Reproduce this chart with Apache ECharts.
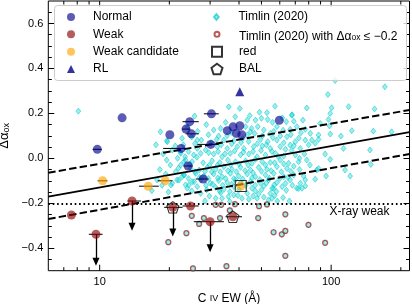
<!DOCTYPE html>
<html><head><meta charset="utf-8">
<script src="https://cdn.jsdelivr.net/npm/echarts@6/dist/echarts.min.js"></script>
<style>html,body{margin:0;padding:0;background:#fff}#c{width:412px;height:304px}</style>
</head><body><div id="c"></div>
<script>
// ---- axis ranges / ticks ----
const xRange = [6, 218];
const yRange = [-0.5, 0.7];
const yMajorTicks = [-0.4, -0.2, 0, 0.2, 0.4, 0.6];
const yMinorTicks = [-0.45,-0.35,-0.3,-0.25,-0.15,-0.1,-0.05,0.05,0.1,0.15,0.25,0.3,0.35,0.45,0.5,0.55,0.65];
const xMajorTicks = [10, 100];
const xMinorTicks = [7, 8, 9, 20, 30, 40, 50, 60, 70, 80, 90, 200];

// ---- sample points: [C IV EW, Δαox, EW low, EW high] ----
const normal = [
  [12.5,0.18,null,null],[9.77,0.04,9.33,10.2],[30.4,0.198,28.2,32.7],[24.5,0.163,22.8,26.8],
  [23.6,0.13,22.7,24.6],[24.9,0.109,23.5,26.8],[20.1,0.105,null,null],[22.5,0.044,18.8,23.4],
  [24.1,-0.034,23.0,25.3],[28.0,-0.092,26.0,29.6],[30.2,0.062,26.4,32.7],[35.6,0.123,null,null],
  [37.7,0.14,null,null],[40.3,0.145,null,null],[38.9,0.111,null,null],[41.1,0.105,null,null],[59.7,0.169,null,null]
];
const weak = [
  [7.55,-0.252,null,null],[13.8,-0.19,13.2,15.1],[9.64,-0.338,8.98,10.3],[20.7,-0.218,19.0,22.8],
  [24.7,-0.212,22.8,26.8],[30.0,-0.282,25.5,34.4],[37.6,-0.26,35.0,41.2]
];
// upper limits: [EW, Δαox, arrow tip Δαox]
const weakLimits = [[13.8,-0.19,-0.304],[9.64,-0.338,-0.46],[20.7,-0.218,-0.33],[30.0,-0.282,-0.40]];
const weakCand = [[10.3,-0.10,9.8,10.8],[16.2,-0.124,14.8,18.0],[19.2,-0.10,17.8,20.6],[40.7,-0.123,null,null]];
const radioLoud = [[40.3,0.296]];
const redSample = [[40.7,-0.123]];
const balSample = [[20.7,-0.218],[37.6,-0.26]];

// ---- Timlin (2020) sample ----
const timlin = [
  [8.09,0.21],[18.3,0.118],[19.5,0.078],[19.5,-0.008],[22.7,0.089],[17.7,-0.096],[16.8,-0.144],[20.6,-0.111],
  [21.6,-0.096],[22.7,-0.082],[23.1,-0.015],[22.3,0.029],[23.4,0.007],[21.9,-0.044],
  [20.6,0.037],[22.4,0.022],[21.7,0.0],[22.4,-0.03],[21.3,-0.06],[23.2,-0.074],[22.0,-0.097],[25.6,-0.104],
  [24.3,-0.119],[20.3,-0.119],[19.6,0.074],[26.4,0.081],
  [17.5,0.06],[18.8,0.02],[18.2,-0.05],[19.3,-0.07],[20.2,-0.03],[21.2,0.055],[19.8,-0.15],[18.6,-0.12],
  [36.1,0.229],[40.3,0.222],[57.2,0.232],[25.7,0.188],[52.8,0.203],[67.8,0.194],
  [43.4,0.17],[47.1,0.17],[50.0,0.178],[53.2,0.173],[64.0,0.163],[75.5,0.17],
  [24.0,0.14],[26.5,0.12],[28.9,0.15],[35.0,0.16],[38.5,0.185],[44.5,0.19],[49.0,0.205],[55.8,0.16],[61.5,0.18],[69.0,0.165],
  [31.1,0.126],[33.3,0.133],[42.7,0.141],[45.3,0.133],[48.2,0.141],[51.2,0.126],[58.3,0.141],[66.5,0.129],[71.1,0.141],
  [32.7,0.099],[43.4,0.104],[46.7,0.111],[54.6,0.111],[60.3,0.099],[64.4,0.096],[74.0,0.114],
  [25.0,0.095],[29.5,0.105],[35.5,0.1],[37.0,0.115],[41.5,0.088],[44.8,0.118],[50.5,0.1],[56.5,0.12],[62.0,0.125],[67.0,0.105],[72.5,0.09],
  [27.5,0.081],[32.0,0.084],[34.4,0.081],[38.0,0.078],[49.5,0.084],[53.2,0.074],[58.3,0.081],[62.4,0.069],[70.0,0.074],[77.3,0.081],
  [23.0,0.06],[25.8,0.065],[30.3,0.07],[33.5,0.06],[37.2,0.065],[40.8,0.07],[44.0,0.075],[48.0,0.065],[52.5,0.06],[56.0,0.092],[63.5,0.04],[69.0,0.055],[80.0,0.06],
  [26.4,0.044],[28.7,0.037],[32.2,0.052],[35.6,0.044],[39.3,0.052],[42.0,0.044],[46.3,0.052],[50.4,0.055],[54.6,0.044],[60.3,0.052],[66.5,0.059],[73.6,0.044],
  [24.2,0.03],[26.3,0.005],[29.6,0.025],[32.5,0.03],[34.8,0.02],[38.3,0.033],[41.8,0.028],[46.0,0.03],[49.8,0.035],[55.5,0.03],[59.0,0.008],[67.5,0.035],[73.0,0.0],
  [25.5,0.015],[27.3,0.022],[31.1,0.019],[33.8,0.007],[36.7,0.022],[40.6,0.015],[44.1,0.019],[47.9,0.007],[52.0,0.015],[57.4,0.022],[62.4,0.01],[70.0,0.015],[76.6,0.019],
  [23.5,-0.008],[25.1,-0.015],[30.6,-0.011],[33.0,-0.019],[35.8,-0.008],[38.6,-0.015],[42.7,-0.011],[45.5,-0.022],[50.4,-0.015],[54.6,-0.019],[60.3,-0.008],[65.5,-0.022],[72.3,-0.015],
  [24.5,-0.025],[28.0,-0.02],[29.8,-0.03],[32.3,-0.03],[36.8,-0.028],[40.0,-0.025],[43.8,-0.03],[47.0,-0.005],[52.0,-0.03],[57.0,-0.02],[62.5,-0.025],[69.0,-0.035],[81.0,-0.03],
  [24.7,-0.045],[26.9,-0.052],[29.2,-0.04],[31.7,-0.049],[34.4,-0.037],[37.3,-0.049],[40.6,-0.04],[44.8,-0.052],[48.6,-0.04],[52.8,-0.049],[58.3,-0.037],[64.4,-0.045],
  [25.8,-0.06],[28.5,-0.058],[30.5,-0.06],[33.2,-0.06],[35.8,-0.055],[39.0,-0.06],[42.5,-0.055],[46.0,-0.065],[50.0,-0.058],[55.0,-0.055],[61.0,-0.06],[67.0,-0.058],[73.0,-0.05],
  [23.1,-0.074],[26.0,-0.067],[28.2,-0.079],[31.1,-0.07],[33.8,-0.082],[36.7,-0.067],[39.9,-0.079],[43.4,-0.07],[47.1,-0.082],[52.0,-0.074],[56.5,-0.067],[62.4,-0.082],[68.9,-0.074],[76.0,-0.079],
  [24.2,-0.09],[27.0,-0.085],[29.5,-0.09],[32.4,-0.088],[35.0,-0.09],[38.0,-0.09],[41.5,-0.092],[45.5,-0.088],[49.2,-0.095],[54.0,-0.088],[60.0,-0.09],[65.0,-0.085],
  [25.1,-0.104],[27.3,-0.096],[30.1,-0.111],[32.7,-0.099],[35.6,-0.108],[38.6,-0.096],[44.8,-0.104],[49.5,-0.111],[53.7,-0.096],[58.3,-0.108],[66.5,-0.096],[73.6,-0.111],
  [23.5,-0.118],[28.8,-0.12],[30.8,-0.115],[34.0,-0.12],[37.2,-0.115],[40.5,-0.11],[42.8,-0.12],[47.0,-0.12],[52.5,-0.11],[56.8,-0.118],[63.5,-0.112],[68.0,-0.12],
  [23.9,-0.133],[26.4,-0.126],[31.7,-0.129],[34.4,-0.138],[38.0,-0.126],[45.5,-0.133],[51.2,-0.123],[55.6,-0.133],[61.4,-0.126],[71.1,-0.133],[77.3,-0.123],
  [25.0,-0.145],[29.0,-0.14],[33.0,-0.145],[36.5,-0.148],[40.0,-0.14],[47.0,-0.145],[50.0,-0.14],[58.0,-0.148],[64.0,-0.142],
  [27.3,-0.156],[33.3,-0.153],[38.0,-0.163],[43.4,-0.156],[48.6,-0.159],[54.6,-0.156],
  [29.8,-0.168],[36.0,-0.17],[39.5,-0.165],[46.0,-0.168],[57.0,-0.165],[62.0,-0.175],
  [31.7,-0.178],[33.8,-0.178],[41.2,-0.178],[44.1,-0.182],[47.9,-0.178],[51.2,-0.173],[53.7,-0.185],
  [28.5,-0.19],[36.5,-0.192],[58.5,-0.19],[66.0,-0.19],
  [170.6,0.318],[96.8,0.284],[104,0.346],[78.5,0.224],[100.5,0.225],[119,0.23],[154,0.22],[99.1,0.2],[97.4,0.173],
  [89.7,0.155],[77.3,0.129],[98.4,0.144],[81.3,0.111],[88.2,0.104],[99.1,0.108],[110.2,0.099],[122.8,0.123],
  [152.1,0.121],[182.4,0.118],[82.6,0.081],[88.2,0.084],[85.3,0.067],[113.0,0.044],[147.2,0.037],[94.2,0.019],
  [99.1,-0.005],[78.5,-0.008],[148.3,-0.027],[88.2,-0.045],[95.1,-0.079],[85.3,-0.093],[120.8,-0.079],[77.3,-0.096],
  [74.8,-0.133],[56.4,-0.134],[55.5,-0.178],[86.7,-0.052],[72.3,-0.134],[114.8,-0.052],[67.6,0.192]
];
// Timlin (2020) objects with Δαox ≤ −0.2
const timlinWeak = [
  [19.8,-0.373],[23.7,-0.333],[25.0,-0.256],[26.9,-0.292],[28.2,-0.266],[31.7,-0.207],[33.5,-0.207],[33.1,-0.266],
  [36.5,-0.232],[38.4,-0.204],[48.4,-0.266],[48.8,-0.213],[52.8,-0.205],[25.3,-0.49],[35.3,-0.48],[63.4,-0.249],
  [79.8,-0.296],[56.4,-0.329],[61.2,-0.338],[63.4,-0.323],[94.2,-0.376],[63.4,-0.434]
];

// ---- relation lines (end points) ----
const fitEW = [6, 218];
const fitMid = [-0.17, 0.117];
const fitUpper = [-0.064, 0.215];
const fitLower = [-0.27, 0.019];
const xrayWeakLimit = -0.2;

const FONT = "'Liberation Sans', Arial, Helvetica, sans-serif";
const chart = echarts.init(document.getElementById('c'), null, {renderer: 'canvas'});

const fmtY = v => (v < 0 ? '\u2212' : '') + Math.abs(v).toFixed(1);
const SYM = {
  circle: 'path://M-1,0A1,1,0,1,0,1,0A1,1,0,1,0,-1,0Z',
  diamond: 'path://M0,-1L0.8,0L0,1L-0.8,0Z',
  triangle: 'path://M0,-1L1,1L-1,1Z',
  square: 'path://M-1,-1L1,-1L1,1L-1,1Z',
  pentagon: 'path://M0,-1L0.951,-0.309L0.588,0.809L-0.588,0.809L-0.951,-0.309Z'
};
const pts = arr => arr.map(r => [r[0], r[1]]);
const errs = arr => arr.filter(r => r[2] != null).map(r => [r[2], r[3], r[1]]);
const linePts = ys => fitEW.map((x, i) => [x, ys[i]]);

function yAxisDef(pos, ticks, len, labels) {
  return {
    type: 'value', min: yRange[0], max: yRange[1], position: pos,
    axisLine: {show: false}, splitLine: {show: false},
    axisTick: {show: true, inside: true, length: len, customValues: ticks, lineStyle: {color: '#000', width: 1}},
    axisLabel: labels ? {show: true, customValues: yMajorTicks, formatter: fmtY, color: '#000', fontSize: 11, fontFamily: FONT, margin: 5}
                      : {show: false}
  };
}

const tickSeries = (vals, len) => ({
  type: 'custom', silent: true, z: 8, xAxisIndex: 0, yAxisIndex: 0,
  data: vals.map(v => [v, yRange[0]]),
  renderItem: (p, api) => {
    const b = api.coord([api.value(0), yRange[0]]);
    const t = api.coord([api.value(0), yRange[1]]);
    return {type: 'group', children: [
      {type: 'line', shape: {x1: b[0], y1: b[1], x2: b[0], y2: b[1] - len}, style: {stroke: '#000', lineWidth: 1}},
      {type: 'line', shape: {x1: t[0], y1: t[1], x2: t[0], y2: t[1] + len}, style: {stroke: '#000', lineWidth: 1}}
    ]};
  }
});

const errSeries = (arr) => ({
  type: 'custom', silent: true, z: 4, xAxisIndex: 0, yAxisIndex: 0,
  data: errs(arr), encode: {x: [0, 1], y: 2},
  renderItem: (p, api) => {
    const a = api.coord([api.value(0), api.value(2)]);
    const b = api.coord([api.value(1), api.value(2)]);
    return {type: 'line', shape: {x1: a[0], y1: a[1], x2: b[0], y2: b[1]}, style: {stroke: '#000', lineWidth: 1}};
  }
});

const legendRows = [17, 34.3, 51.7, 69];
// square icon box of the symbol size, text pushed to 22px right of icon centre
function leg(name, cx, cy, size, rich) {
  const gap = 17 - size / 2;
  return {
    data: [name], left: cx - size / 2, top: cy - 8, itemWidth: size, itemHeight: size, padding: 0, itemGap: 0,
    selectedMode: false, z: 60, symbolKeepAspect: true,
    formatter: rich || undefined,
    textStyle: {fontSize: 12, fontFamily: FONT, color: '#000', lineHeight: 16, padding: [0, 0, 0, gap],
      rich: {a: {fontSize: 12, fontFamily: FONT, lineHeight: 16, verticalAlign: 'bottom'},
             s: {fontSize: 8.5, fontFamily: FONT, lineHeight: 9, verticalAlign: 'bottom'}}}
  };
}

const option = {
  animation: false,
  backgroundColor: '#fff',
  grid: {left: 48.3, right: 2.5, top: 1, bottom: 33.3, outerBoundsMode: 'none', containLabel: false,
         show: true, borderColor: '#000', borderWidth: 1, backgroundColor: 'transparent'},
  xAxis: [{
    type: 'log', logBase: 10, min: xRange[0], max: xRange[1], position: 'bottom',
    axisLine: {show: false}, axisTick: {show: false}, splitLine: {show: false}, minorSplitLine: {show: false},
    axisLabel: {showMinLabel: false, showMaxLabel: false, color: '#000', fontSize: 11, fontFamily: FONT, margin: 6},
    name: '{a|C }{s|IV}{a| EW (Å)}', nameLocation: 'middle', nameGap: 16,
    nameTextStyle: {color: '#000', rich: {
      a: {fontSize: 12, fontFamily: FONT, color: '#000', lineHeight: 16},
      s: {fontSize: 9, fontFamily: FONT, color: '#000', lineHeight: 16}}}
  }],
  yAxis: [
    Object.assign(yAxisDef('left', yMajorTicks, 6, true), {
      name: '{a|\u0394\u03b1}{s|ox}', nameLocation: 'middle', nameGap: 28, nameRotate: 90,
      nameTextStyle: {color: '#000', rich: {
        a: {fontSize: 13, fontFamily: FONT, color: '#000', lineHeight: 18, verticalAlign: 'bottom'},
        s: {fontSize: 9, fontFamily: FONT, color: '#000', lineHeight: 8, verticalAlign: 'bottom'}}}
    }),
    yAxisDef('left', yMinorTicks, 3.5, false),
    yAxisDef('right', yMajorTicks, 6, false),
    yAxisDef('right', yMinorTicks, 3.5, false)
  ],
  legend: [
    leg('Normal', 71, legendRows[0], 8),
    leg('Weak', 71, legendRows[1], 8),
    leg('Weak candidate', 71, legendRows[2], 8),
    leg('RL', 71, legendRows[3], 8),
    leg('Timlin (2020)', 216, legendRows[0], 6),
    leg('Timlin (2020) with \u0394\u03b1ox \u2264 \u22120.2', 216, legendRows[1], 5, '{a|Timlin (2020) with \u0394\u03b1}{s|ox}{a| \u2264 \u22120.2}'),
    leg('red', 216, legendRows[2], 10),
    leg('BAL', 216, legendRows[3], 11)
  ],
  graphic: [{
    type: 'rect', z: 50, silent: true,
    shape: {x: 54.5, y: 5.5, width: 352, height: 75, r: 3},
    style: {fill: 'rgba(255,255,255,0.8)', stroke: '#cccccc', lineWidth: 1}
  }],
  series: [
    {name: 'Timlin (2020)', type: 'scatter', z: 1, symbol: SYM.diamond, symbolSize: 6, symbolKeepAspect: true,
     data: timlin.concat(timlinWeak),
     itemStyle: {color: 'rgba(0,215,215,0.5)', borderColor: 'rgba(0,195,195,0.8)', borderWidth: 0.8}},
    {name: 'Timlin (2020) with \u0394\u03b1ox \u2264 \u22120.2', type: 'scatter', z: 2, symbol: SYM.circle, symbolSize: 5,
     data: timlinWeak,
     itemStyle: {color: 'rgba(255,255,255,0)', borderColor: '#a83232', borderWidth: 1.2}},
    {type: 'line', z: 3, silent: true, symbol: 'none', data: linePts(fitMid), lineStyle: {color: '#000', width: 1.8},
     markLine: {silent: true, symbol: 'none', data: [{yAxis: xrayWeakLimit}],
       lineStyle: {color: '#000', width: 2, type: [1.6, 2.8]},
       label: {show: true, position: 'insideEndBottom', formatter: 'X-ray weak', color: '#000', fontSize: 12, fontFamily: FONT, distance: [20, 2]}}},
    {type: 'line', z: 3, silent: true, symbol: 'none', data: linePts(fitUpper), lineStyle: {color: '#000', width: 2, type: [7.4, 3.2]}},
    {type: 'line', z: 3, silent: true, symbol: 'none', data: linePts(fitLower), lineStyle: {color: '#000', width: 2, type: [7.4, 3.2]}},
    errSeries(normal), errSeries(weak), errSeries(weakCand),
    {name: 'Normal', type: 'scatter', z: 5, symbol: SYM.circle, symbolSize: 9, data: pts(normal),
     itemStyle: {color: 'rgba(0,0,139,0.8)'}},
    {name: 'Weak', type: 'scatter', z: 5, symbol: SYM.circle, symbolSize: 9, data: pts(weak),
     itemStyle: {color: 'rgba(139,0,0,0.8)'},
     markLine: {silent: true, symbol: ['none', 'triangle'], symbolSize: [7, 8],
       lineStyle: {color: '#000', width: 1.3, type: 'solid'}, label: {show: false},
       data: weakLimits.map(r => [{coord: [r[0], r[1]]}, {coord: [r[0], r[2]]}])}},
    {name: 'Weak candidate', type: 'scatter', z: 5, symbol: SYM.circle, symbolSize: 9, data: pts(weakCand),
     itemStyle: {color: 'rgba(255,165,0,0.8)'}},
    {name: 'RL', type: 'scatter', z: 5, symbol: SYM.triangle, symbolSize: 9, symbolKeepAspect: true, data: radioLoud,
     itemStyle: {color: '#00008b'}},
    {name: 'red', type: 'scatter', z: 6, symbol: SYM.square, symbolSize: 11, symbolKeepAspect: true, data: redSample,
     itemStyle: {color: 'rgba(0,0,0,0)', borderColor: '#000', borderWidth: 1.1}},
    {name: 'BAL', type: 'scatter', z: 6, symbol: SYM.pentagon, symbolSize: 12, symbolKeepAspect: true, data: balSample,
     itemStyle: {color: 'rgba(0,0,0,0)', borderColor: '#000', borderWidth: 1.1}},
    tickSeries(xMajorTicks, 6),
    tickSeries(xMinorTicks, 3.5)
  ]
};
chart.setOption(option);
</script>
</body></html>
